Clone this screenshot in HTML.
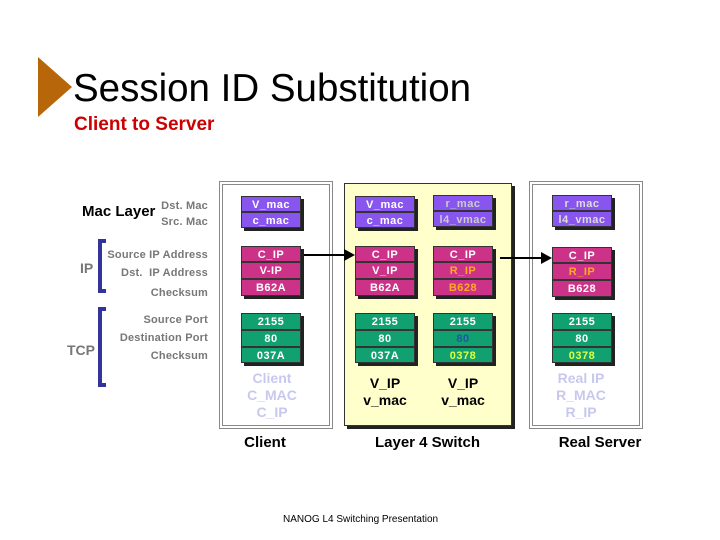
<!DOCTYPE html>
<html><head><style>
body{margin:0;width:720px;height:540px;background:#fff;position:relative;overflow:hidden;font-family:"Liberation Sans",sans-serif}
.a{position:absolute}
.c{position:absolute;width:60px;height:16px;color:#fff;font-weight:bold;font-size:11px;letter-spacing:.5px;text-align:center;line-height:16px;border:1px solid #333;box-sizing:border-box;box-shadow:3px 3px 0 #222}
.p{background:#8855ee}.m{background:#cc3388}.g{background:#11a070}
.l{position:absolute;color:#777;font-size:11px;font-weight:bold;text-align:right;letter-spacing:.2px}
.box{position:absolute;border:1px solid #888;outline:1px solid #888;outline-offset:2px;background:#fff}
.t{position:absolute;text-align:center;font-weight:bold;font-size:15px}
.f{position:absolute;text-align:center;font-size:14px;line-height:17px;color:#c8c8ee;font-weight:bold}
</style></head><body>
<svg class="a" style="left:0;top:0" width="720" height="540">
<polygon points="38,57 72,87 38,117" fill="#b8660a"/>
<path d="M106,241 H100 V291 H106" stroke="#333399" stroke-width="4" fill="none"/>
<path d="M106,309 H100 V385 H106" stroke="#333399" stroke-width="4" fill="none"/>
</svg>
<div class="a" style="left:73px;top:67px;font-size:38.5px">Session ID Substitution</div>
<div class="a" style="left:74px;top:114px;font-size:19px;color:#cc0000;font-weight:bold">Client to Server</div>

<div class="a" style="left:82px;top:203px;font-size:15px;font-weight:bold">Mac Layer</div>
<div class="l" style="right:512px;top:200px">Dst. Mac</div>
<div class="l" style="right:512px;top:216px">Src. Mac</div>
<div class="a" style="left:80px;top:260px;font-size:14px;color:#777;font-weight:bold">IP</div>
<div class="l" style="right:512px;top:249px">Source IP Address</div>
<div class="l" style="right:512px;top:267px">Dst.&nbsp; IP Address</div>
<div class="l" style="right:512px;top:287px">Checksum</div>
<div class="a" style="left:67px;top:342px;font-size:14px;color:#777;font-weight:bold">TCP</div>
<div class="l" style="right:512px;top:314px">Source Port</div>
<div class="l" style="right:512px;top:332px">Destination Port</div>
<div class="l" style="right:512px;top:350px">Checksum</div>

<div class="box" style="left:222px;top:184px;width:106px;height:240px"></div>
<div class="box" style="left:532px;top:184px;width:106px;height:240px"></div>
<div class="a" style="left:344px;top:183px;width:168px;height:243px;background:#ffffcc;border:1px solid #333;box-shadow:3px 3px 0 #222;box-sizing:border-box"></div>

<svg class="a" style="left:0;top:0" width="720" height="540">
<line x1="302" y1="255" x2="345" y2="255" stroke="#000" stroke-width="2"/><polygon points="344,249 355,255 344,261"/>
<line x1="500" y1="258" x2="542" y2="258" stroke="#000" stroke-width="2"/><polygon points="541,252 552,258 541,264"/>
</svg>

<div class="c p" style="left:241px;top:196px">V_mac</div>
<div class="c p" style="left:241px;top:212px">c_mac</div>
<div class="c m" style="left:241px;top:246px">C_IP</div>
<div class="c m" style="left:241px;top:262px;height:17px">V-IP</div>
<div class="c m" style="left:241px;top:279px;height:17px">B62A</div>
<div class="c g" style="left:241px;top:313px;height:17px">2155</div>
<div class="c g" style="left:241px;top:330px;height:17px">80</div>
<div class="c g" style="left:241px;top:347px">037A</div>

<div class="c p" style="left:355px;top:196px">V_mac</div>
<div class="c p" style="left:355px;top:212px">c_mac</div>
<div class="c m" style="left:355px;top:246px">C_IP</div>
<div class="c m" style="left:355px;top:262px;height:17px">V_IP</div>
<div class="c m" style="left:355px;top:279px;height:17px">B62A</div>
<div class="c g" style="left:355px;top:313px;height:17px">2155</div>
<div class="c g" style="left:355px;top:330px;height:17px">80</div>
<div class="c g" style="left:355px;top:347px">037A</div>

<div class="c p" style="left:433px;top:195px;color:#ccc">r_mac</div>
<div class="c p" style="left:433px;top:211px;color:#ccc">l4_vmac</div>
<div class="c m" style="left:433px;top:246px">C_IP</div>
<div class="c m" style="left:433px;top:262px;height:17px;color:#ffaa22">R_IP</div>
<div class="c m" style="left:433px;top:279px;height:17px;color:#ffaa22">B628</div>
<div class="c g" style="left:433px;top:313px;height:17px">2155</div>
<div class="c g" style="left:433px;top:330px;height:17px;color:#2255aa">80</div>
<div class="c g" style="left:433px;top:347px;color:#ddff44">0378</div>

<div class="c p" style="left:552px;top:195px;color:#ddd">r_mac</div>
<div class="c p" style="left:552px;top:211px;color:#ddd">l4_vmac</div>
<div class="c m" style="left:552px;top:247px">C_IP</div>
<div class="c m" style="left:552px;top:263px;height:17px;color:#ffaa22">R_IP</div>
<div class="c m" style="left:552px;top:280px;height:17px">B628</div>
<div class="c g" style="left:552px;top:313px;height:17px">2155</div>
<div class="c g" style="left:552px;top:330px;height:17px">80</div>
<div class="c g" style="left:552px;top:347px;color:#ddff44">0378</div>

<div class="f" style="left:232px;top:370px;width:80px">Client<br>C_MAC<br>C_IP</div>
<div class="f" style="left:541px;top:370px;width:80px">Real IP<br>R_MAC<br>R_IP</div>
<div class="f" style="left:345px;top:375px;width:80px;color:#000">V_IP<br>v_mac</div>
<div class="f" style="left:423px;top:375px;width:80px;color:#000">V_IP<br>v_mac</div>

<div class="t" style="left:225px;top:434px;width:80px">Client</div>
<div class="t" style="left:360px;top:434px;width:135px">Layer 4 Switch</div>
<div class="t" style="left:545px;top:434px;width:110px">Real Server</div>
<div class="a" style="left:283px;top:514px;font-size:10px">NANOG L4 Switching Presentation</div>
</body></html>
